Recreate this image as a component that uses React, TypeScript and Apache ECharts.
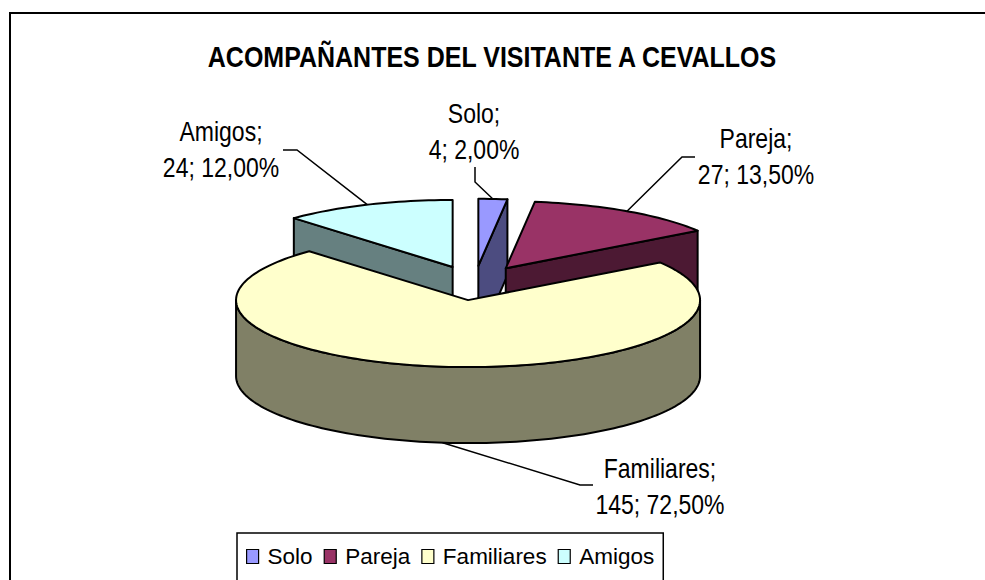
import React, { useEffect, useRef } from "react";
import * as echarts from "echarts";

// ---- data ----
const categories = ["Solo", "Pareja", "Familiares", "Amigos"];
const values = [4, 27, 145, 24];
const titleText = "ACOMPAÑANTES DEL VISITANTE A CEVALLOS";

// ---- styles / layout ----
const topColors = ["#9999FF", "#993366", "#FFFFCC", "#CCFFFF"];
const sideColors = ["#4C4C80", "#4C1933", "#808066", "#668080"];
const drawOrder = [3, 0, 1, 2]; // back to front
const PIE = { cx: 474.6, cy: 283, rx: 232, ry: 67, depth: 76, explode: 0.257 };
// label block centre, elbow point, end point (layout only), same order as categories
const labelLayout = [
  { c: [474, 131], elbow: [475, 182], end: [475, 167] },
  { c: [756, 156], elbow: [682, 157], end: [695, 157] },
  { c: [660, 486], elbow: [580, 485], end: [593, 485] },
  { c: [221, 149], elbow: [297, 150], end: [283, 150] },
];
const FONT = "'Liberation Sans', Arial, sans-serif";
const STRETCH = 1.2;

const total = values.reduce((a, b) => a + b, 0);
const startAngles: number[] = [];
{
  let acc = 0;
  values.forEach((v) => {
    startAngles.push((acc / total) * Math.PI * 2);
    acc += v;
  });
}

function fmtPct(v: number) {
  return ((v / total) * 100).toFixed(2).replace(".", ",") + "%";
}

function makeRender(idx: number, order: number) {
  return () => {
    const a0 = startAngles[idx];
    const a1 = a0 + (values[idx] / total) * Math.PI * 2;
    const mid = (a0 + a1) / 2;
    const ox = PIE.explode * PIE.rx * Math.sin(mid);
    const oy = -PIE.explode * PIE.ry * Math.cos(mid);
    const P = (a: number, dy = 0) => [
      PIE.cx + ox + PIE.rx * Math.sin(a),
      PIE.cy + oy - PIE.ry * Math.cos(a) + dy,
    ];
    const apex = [PIE.cx + ox, PIE.cy + oy];
    const apexB = [apex[0], apex[1] + PIE.depth];
    const arc = (s: number, e: number, dy = 0) => {
      const n = Math.max(2, Math.ceil((e - s) / (Math.PI / 120)));
      const pts: number[][] = [];
      for (let k = 0; k <= n; k++) pts.push(P(s + ((e - s) * k) / n, dy));
      return pts;
    };
    const base = order * 10;
    const faceStyle = (fill: string) => ({ fill, stroke: "#000", lineWidth: 2, lineJoin: "round" });
    const children: any[] = [];
    if (Math.sin(a0) < -1e-6) {
      children.push({
        type: "polygon",
        z2: base + 1,
        shape: { points: [apex, P(a0), P(a0, PIE.depth), apexB] },
        style: faceStyle(sideColors[idx]),
      });
    }
    if (Math.sin(a1) > 1e-6) {
      children.push({
        type: "polygon",
        z2: base + 1,
        shape: { points: [apex, P(a1), P(a1, PIE.depth), apexB] },
        style: faceStyle(sideColors[idx]),
      });
    }
    const ws = Math.max(a0, Math.PI / 2);
    const we = Math.min(a1, (Math.PI * 3) / 2);
    if (we > ws) {
      const topArc = arc(ws, we);
      const botArc = arc(ws, we, PIE.depth).reverse();
      children.push({
        type: "polygon",
        z2: base + 2,
        shape: { points: topArc.concat(botArc) },
        style: faceStyle(sideColors[idx]),
      });
    }
    children.push({
      type: "polygon",
      z2: base + 3,
      shape: { points: [apex].concat(arc(a0, a1)) },
      style: faceStyle(topColors[idx]),
    });
    const front = Math.cos(mid) < -0.5;
    const anchor = front ? P(mid, PIE.depth) : P(mid);
    const L = labelLayout[idx];
    children.push({
      type: "polyline",
      z2: 100,
      shape: { points: [anchor, L.elbow, L.end] },
      style: { stroke: "#000", lineWidth: 1.5, fill: null },
    });
    children.push({
      type: "text",
      z2: 101,
      x: L.c[0],
      y: L.c[1],
      scaleY: STRETCH,
      style: {
        text: categories[idx] + ";\n" + values[idx] + "; " + fmtPct(values[idx]),
        fill: "#000",
        fontSize: 23,
        fontFamily: FONT,
        align: "center",
        verticalAlign: "middle",
        lineHeight: 30,
      },
    });
    return { type: "group", children };
  };
}

export default function App() {
  const ref = useRef<HTMLDivElement>(null);
  useEffect(() => {
    document.body.style.margin = "0";
    const chart = echarts.init(ref.current!, undefined, { renderer: "svg" });
    const series = drawOrder.map((idx, order) => ({
      type: "custom",
      name: categories[idx],
      coordinateSystem: "none",
      silent: true,
      itemStyle: { color: topColors[idx] },
      data: [values[idx]],
      renderItem: makeRender(idx, order),
    }));
    chart.setOption({
      animation: false,
      backgroundColor: "#fff",
      legend: {
        data: categories,
        left: 237,
        top: 533,
        orient: "horizontal",
        icon: "path://M0 0H12V14H0Z",
        itemWidth: 12,
        itemHeight: 14,
        itemGap: 11,
        padding: [12, 9, 16, 9],
        borderColor: "#000",
        borderWidth: 1.5,
        itemStyle: { borderColor: "#000", borderWidth: 1.2 },
        textStyle: { fontSize: 22.5, fontFamily: FONT, color: "#000", padding: [0, 0, 0, 4] },
        selectedMode: false,
      },
      graphic: [
        {
          type: "rect",
          silent: true,
          shape: { x: 10, y: 13, width: 980, height: 620 },
          style: { fill: "none", stroke: "#000", lineWidth: 2 },
        },
        {
          type: "text",
          silent: true,
          x: 492,
          y: 57,
          scaleY: STRETCH,
          style: {
            text: titleText,
            fontSize: 25,
            fontWeight: "bold",
            fontFamily: FONT,
            fill: "#000",
            align: "center",
            verticalAlign: "middle",
          },
        },
      ],
      series,
    });
    return () => chart.dispose();
  }, []);
  return <div ref={ref} style={{ width: 985, height: 580 }} />;
}
